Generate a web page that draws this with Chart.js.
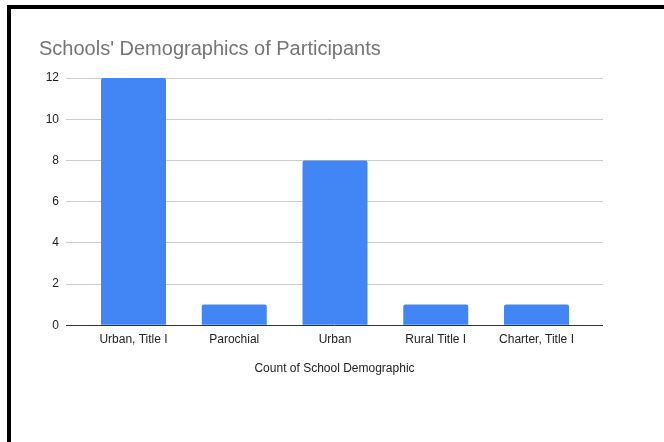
<!DOCTYPE html>
<html>
<head>
<meta charset="utf-8">
<title>Schools' Demographics of Participants</title>
<script src="https://cdn.jsdelivr.net/npm/chart.js@4"></script>
<style>
  html, body { margin: 0; padding: 0; background: #fff; overflow: hidden; }
  #frame {
    position: absolute; left: 7px; top: 5px; width: 700px; height: 480px;
    border-top: 4px solid #000; border-left: 4px solid #000;
  }
  #wrap { position: absolute; left: 0; top: 0; width: 664px; height: 442px; }
</style>
</head>
<body>
<div id="frame"></div>
<div id="wrap"><canvas id="chart" width="664" height="442"></canvas></div>
<script>
// school types and how many participants came from each
const categories = ['Urban, Title I', 'Parochial', 'Urban', 'Rural Title I', 'Charter, Title I'];
const counts = [12, 1, 8, 1, 1];
const yTicks = [0, 2, 4, 6, 8, 10, 12];

const font = "'Liberation Sans', Arial, sans-serif";

const ctx = document.getElementById('chart').getContext('2d');
new Chart(ctx, {
    type: 'bar',
    data: {
        datasets: [{
            label: 'Count of School Demographic',
            data: categories.map((c, i) => ({ x: i, y: counts[i] })),
            backgroundColor: '#4285f4',
            borderRadius: { topLeft: 2, topRight: 2 },
            borderSkipped: 'bottom',
            barPercentage: 0.645,
            categoryPercentage: 1.0
        }]
    },
    options: {
        responsive: false,
        animation: false,
        layout: { padding: { left: 39, right: 61, top: 37, bottom: 66 } },
        plugins: {
            legend: { display: false },
            tooltip: { enabled: false },
            title: {
                display: true,
                text: "Schools' Demographics of Participants",
                align: 'start',
                color: '#757575',
                font: { family: font, size: 20, weight: 'normal' },
                padding: { top: 0, bottom: 17 }
            }
        },
        scales: {
            x: {
                type: 'linear',
                offset: false,
                min: -0.67,
                max: 4.66,
                afterBuildTicks: s => { s.ticks = categories.map((c, i) => ({ value: i })); },
                ticks: {
                    autoSkip: false,
                    maxRotation: 0,
                    padding: 7,
                    color: '#222',
                    font: { family: font, size: 12 },
                    callback: v => categories[v]
                },
                grid: { display: false, drawTicks: false, offset: false },
                border: { display: false },
                title: {
                    display: true,
                    text: 'Count of School Demographic',
                    color: '#222',
                    font: { family: font, size: 12 },
                    padding: { top: 8, bottom: 0 }
                }
            },
            y: {
                min: 0,
                max: 12,
                afterBuildTicks: s => { s.ticks = yTicks.map(v => ({ value: v })); },
                afterFit: s => { s.width = 27; },
                ticks: {
                    padding: 7,
                    color: '#222',
                    font: { family: font, size: 12 }
                },
                grid: {
                    drawTicks: false,
                    color: c => c.tick.value === 0 ? '#333' : '#cccccc',
                    lineWidth: 1
                },
                border: { display: false }
            }
        }
    }
});
</script>
</body>
</html>
